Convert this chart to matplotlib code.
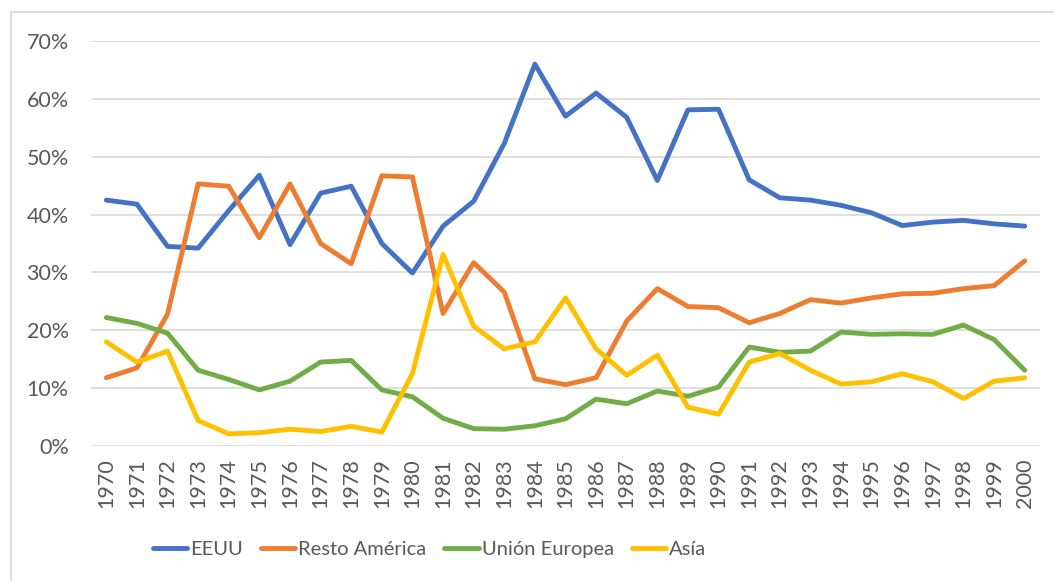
import matplotlib.pyplot as plt
from matplotlib.patches import Rectangle
from matplotlib.ticker import PercentFormatter

# Datos (participación por destino, en %)
anios = list(range(1970, 2001))

eeuu = [42.5, 41.8, 34.5, 34.2, 40.7, 46.8, 34.8, 43.7, 44.9, 35.0,
        29.9, 38.0, 42.3, 52.3, 66.0, 57.0, 61.0, 56.8, 45.9, 58.1,
        58.2, 46.0, 42.9, 42.5, 41.6, 40.3, 38.1, 38.7, 39.0, 38.4, 38.0]

resto_america = [11.8, 13.5, 22.8, 45.3, 44.9, 36.0, 45.3, 35.0, 31.5, 46.7,
                 46.5, 22.9, 31.7, 26.6, 11.6, 10.6, 11.8, 21.6, 27.2, 24.1,
                 23.9, 21.3, 22.9, 25.3, 24.7, 25.6, 26.3, 26.4, 27.2, 27.7, 32.0]

union_europea = [22.2, 21.2, 19.5, 13.1, 11.5, 9.7, 11.2, 14.5, 14.8, 9.7,
                 8.5, 4.8, 3.0, 2.9, 3.5, 4.7, 8.1, 7.3, 9.5, 8.6,
                 10.2, 17.1, 16.2, 16.4, 19.7, 19.3, 19.4, 19.3, 20.9, 18.4, 13.1]

asia = [18.0, 14.5, 16.4, 4.4, 2.1, 2.3, 2.9, 2.5, 3.4, 2.4,
        12.5, 33.1, 20.7, 16.8, 18.0, 25.6, 16.8, 12.2, 15.7, 6.7,
        5.5, 14.5, 16.0, 13.1, 10.7, 11.1, 12.5, 11.1, 8.2, 11.2, 11.8]

series = ["EEUU", "Resto América", "Unión Europea", "Asía"]
colores = ["#4472C4", "#ED7D31", "#70AD47", "#FFC000"]
gris = "#595959"

plt.rcParams['font.family'] = ['Lato', 'DejaVu Sans']

fig = plt.figure(figsize=(10.54, 5.81), dpi=100)
ax = fig.add_axes([91 / 1054, 1 - 446 / 581, (1040 - 91) / 1054, (446 - 41) / 581])

# Marco del gráfico (estilo Excel)
fig.patches.append(Rectangle((10.5 / 1054, -0.05), 1.1, 1 - 12 / 581 + 0.05,
                             transform=fig.transFigure, fill=False,
                             edgecolor="#d9d9d9", linewidth=1.2))

for datos, nombre, color in zip([eeuu, resto_america, union_europea, asia], series, colores):
    ax.plot(anios, datos, color=color, linewidth=3.5, label=nombre,
            solid_capstyle='round', solid_joinstyle='round', clip_on=False)

ax.set_xlim(1969.5, 2000.5)
ax.set_ylim(0, 70)
ax.set_yticks(range(0, 71, 10))
ax.yaxis.set_major_formatter(PercentFormatter(decimals=0))
ax.set_xticks(anios)
ax.set_xticklabels([str(a) for a in anios], rotation=90)

ax.grid(axis='y', color="#d9d9d9", linewidth=1.2)
ax.set_axisbelow(True)
for lado in ["top", "right", "left", "bottom"]:
    ax.spines[lado].set_visible(False)
ax.tick_params(axis='both', length=0, labelsize=15.5, colors=gris)
ax.tick_params(axis='y', pad=16)
ax.tick_params(axis='x', pad=9)

fig.legend(loc='center', bbox_to_anchor=(0.4075, 1 - 549 / 581), ncol=4,
           frameon=False, fontsize=14.5, labelcolor=gris, handlelength=1.7,
           handletextpad=0.15, columnspacing=0.9)

fig.savefig("out.png", dpi=100)
